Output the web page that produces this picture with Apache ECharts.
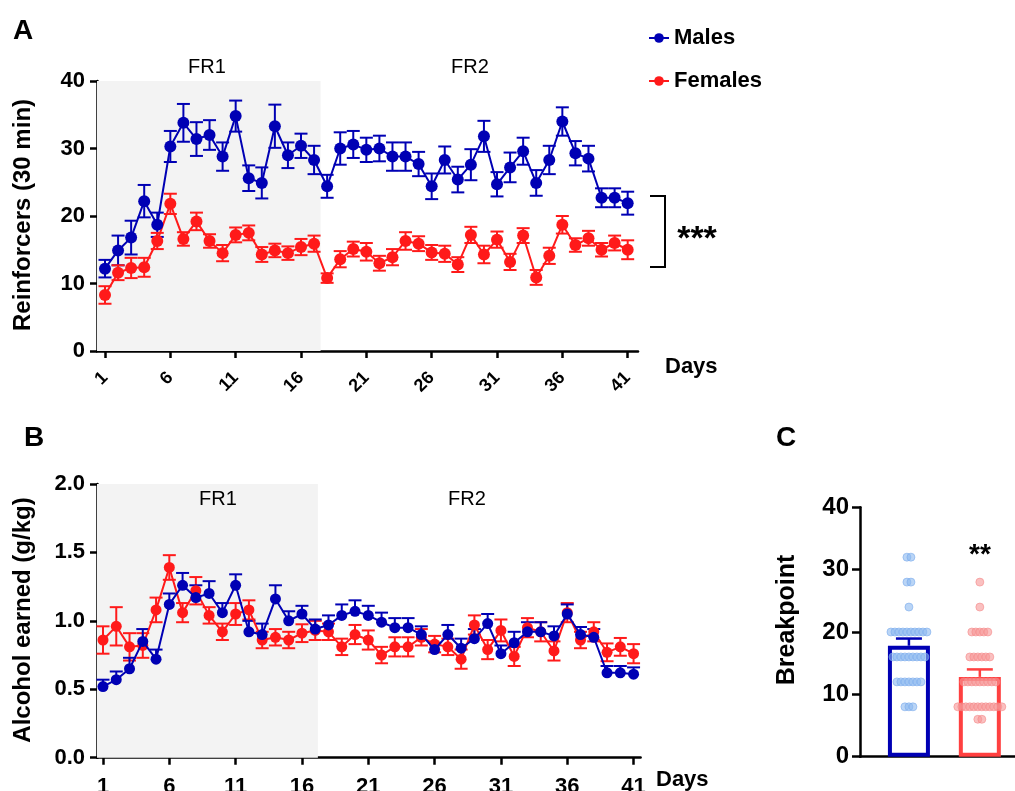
<!DOCTYPE html>
<html>
<head>
<meta charset="utf-8">
<script src="https://cdn.jsdelivr.net/npm/echarts@6/dist/echarts.min.js"></script>
<style>
html,body{margin:0;padding:0;background:#fff;}
#chart{width:1015px;height:791px;}
</style>
</head>
<body>
<div id="chart"></div>
<script>
// ---------- data ----------
const days = [1,2,3,4,5,6,7,8,9,10,11,12,13,14,15,16,17,18,19,20,21,22,23,24,25,26,27,28,29,30,31,32,33,34,35,36,37,38,39,40,41];
const dayTicks = [1,6,11,16,21,26,31,36,41];

// Panel A: reinforcers (30 min), mean and SEM
const maleReinf = [12.2,14.9,16.8,22.2,18.7,30.3,33.8,31.4,32.0,28.8,34.8,25.6,24.9,33.3,29.0,30.4,28.3,24.4,30.0,30.6,29.8,30.0,28.8,28.8,27.7,24.4,28.3,25.4,27.6,31.8,24.7,27.2,29.6,24.9,28.3,34.0,29.3,28.5,22.7,22.7,21.9];
const maleReinfSem = [1.3,2.2,2.5,2.4,1.8,2.3,2.8,2.5,2.2,2.1,2.3,1.9,2.3,3.2,1.9,1.8,2.1,1.7,2.4,2.0,1.8,1.9,2.1,2.1,1.8,1.9,2.0,1.9,2.3,2.3,1.8,2.2,2.0,1.9,2.1,2.1,1.8,1.9,1.4,1.4,1.7];
const femaleReinf = [8.3,11.6,12.3,12.4,16.3,21.8,16.6,19.2,16.3,14.5,17.2,17.5,14.3,14.9,14.5,15.4,15.9,10.8,13.6,15.1,14.7,13.0,13.9,16.3,15.9,14.6,14.4,12.8,17.2,14.3,16.5,13.2,17.1,10.9,14.1,18.7,15.7,16.7,15.0,16.0,15.0];
const femaleReinfSem = [1.3,1.1,1.5,1.4,1.2,1.5,1.0,1.3,1.0,1.2,1.1,1.1,1.1,1.0,1.0,1.2,1.2,0.7,1.2,1.1,1.3,1.1,1.2,1.3,1.1,1.1,1.2,1.1,1.2,1.3,1.2,1.2,1.1,1.1,1.2,1.3,1.0,1.1,1.0,1.1,1.4];

// Panel B: alcohol earned (g/kg), mean and SEM
const maleAlc = [0.52,0.57,0.65,0.85,0.72,1.12,1.26,1.17,1.20,1.06,1.26,0.92,0.90,1.16,1.00,1.05,0.94,0.97,1.04,1.07,1.04,0.99,0.95,0.95,0.90,0.79,0.90,0.80,0.87,0.98,0.76,0.84,0.92,0.92,0.89,1.05,0.90,0.88,0.62,0.62,0.61];
const maleAlcSem = [0.05,0.06,0.08,0.09,0.07,0.08,0.09,0.09,0.09,0.07,0.08,0.08,0.08,0.10,0.07,0.06,0.07,0.07,0.08,0.08,0.07,0.07,0.07,0.07,0.06,0.05,0.07,0.07,0.07,0.07,0.06,0.08,0.07,0.07,0.07,0.07,0.055,0.06,0.05,0.05,0.05];
const femaleAlc = [0.86,0.96,0.81,0.82,1.08,1.39,1.06,1.22,1.04,0.92,1.05,1.08,0.86,0.88,0.86,0.91,0.93,0.92,0.81,0.90,0.86,0.75,0.81,0.81,0.88,0.83,0.81,0.72,0.97,0.79,0.93,0.74,0.95,0.92,0.78,1.06,0.86,0.92,0.77,0.81,0.76];
const femaleAlcSem = [0.10,0.14,0.10,0.09,0.09,0.09,0.07,0.10,0.06,0.06,0.08,0.07,0.06,0.06,0.06,0.065,0.07,0.06,0.06,0.07,0.07,0.06,0.07,0.07,0.06,0.06,0.06,0.07,0.07,0.07,0.08,0.07,0.07,0.07,0.07,0.07,0.06,0.07,0.065,0.065,0.07];

// Panel C: breakpoint
const groups = ['Males','Females'];
const bpMean = [17.8, 12.8];
const bpSem = [1.15, 1.2];
const maleBP = [32,32,28,28,24,20,20,20,20,20,20,20,20,20,20,16,16,16,16,16,16,16,16,16,12,12,12,12,12,12,12,8,8,8];
const femaleBP = [28,24,20,20,20,20,20,16,16,16,16,16,16,12,12,12,12,12,12,12,12,12,8,8,8,8,8,8,8,8,8,8,8,8,6,6];

const fr1EndA = 17.5, fr1EndB = 17.2;

// ---------- style ----------
const BLUE = '#0000b4', RED = '#ff1a1a';
const LBLUE = 'rgba(140,185,240,0.75)', LRED = 'rgba(247,150,150,0.75)';
const FONT = '"Liberation Sans", Arial, Helvetica, sans-serif';

const chart = echarts.init(document.getElementById('chart'), null, {renderer:'canvas'});

function pairs(xs, ys, es){ return xs.map((x,i)=> es ? [x, ys[i], es[i]] : [x, ys[i]]); }

function errRender(color, capHalf, lw, upperOnly){
  return function(params, api){
    const x = api.value(0), y = api.value(1), e = api.value(2);
    const top = api.coord([x, y + e]);
    const bot = api.coord([x, upperOnly ? y : y - e]);
    const st = {stroke: color, lineWidth: lw};
    const ch = [
      {type:'line', shape:{x1:top[0], y1:top[1], x2:bot[0], y2:bot[1]}, style:st},
      {type:'line', shape:{x1:top[0]-capHalf, y1:top[1], x2:top[0]+capHalf, y2:top[1]}, style:st}
    ];
    if(!upperOnly) ch.push({type:'line', shape:{x1:bot[0]-capHalf, y1:bot[1], x2:bot[0]+capHalf, y2:bot[1]}, style:st});
    return {type:'group', children: ch};
  };
}

// beeswarm-like layout for panel C points
const cMin = 0.31, cMax = 2.496, cWidthPx = 155;
const pxPerUnit = cWidthPx / (cMax - cMin);
function swarm(values, center){
  const counts = {}, seen = {};
  values.forEach(v => counts[v] = (counts[v]||0) + 1);
  return values.map(v => {
    const k = seen[v] = (seen[v]===undefined ? 0 : seen[v]+1);
    const off = (k - (counts[v]-1)/2) * 4 / pxPerUnit;
    return [center + off, v];
  });
}

const axisLineStyle = {lineStyle:{color:'#000', width:2.5}};
const tickStyle = {show:true, length:7, lineStyle:{color:'#000', width:2.5}};

function txt(x, y, text, font, align, rot){
  const o = {type:'text', x:x, y:y, z:100, style:{text:text, font:font, fill:'#000', textAlign:align||'center', textVerticalAlign:'middle'}};
  if(rot) o.rotation = rot;
  return o;
}

const option = {
  animation: false,
  backgroundColor: '#fff',
  legend: {
    data: ['Males','Females'],
    orient: 'vertical',
    left: 643, top: 22,
    itemGap: 21,
    itemWidth: 20, itemHeight: 12,
    textStyle: {fontFamily: FONT, fontSize: 22, fontWeight: 'bold', color:'#000'}
  },
  grid: [
    {left: 97, top: 81, width: 541, height: 270, outerBoundsMode:'none', containLabel:false},
    {left: 97, top: 484, width: 543.6, height: 273.7, outerBoundsMode:'none', containLabel:false},
    {left: 860, top: 507.3, width: 155, height: 249.4, outerBoundsMode:'none', containLabel:false}
  ],
  xAxis: [
    {gridIndex:0, type:'value', min:0.388, max:41.79,
      axisLine: axisLineStyle, splitLine:{show:false},
      axisTick: Object.assign({customValues: dayTicks}, tickStyle),
      axisLabel: {customValues: dayTicks, rotate: 45, margin: 24, fontFamily: FONT, fontSize: 18, fontWeight:'bold', color:'#000'}
    },
    {gridIndex:1, type:'value', min:0.548, max:41.53,
      axisLine: axisLineStyle, splitLine:{show:false},
      axisTick: Object.assign({customValues: dayTicks}, tickStyle),
      axisLabel: {customValues: dayTicks, margin: 18, fontFamily: FONT, fontSize: 22, fontWeight:'bold', color:'#000'}
    },
    {gridIndex:2, type:'value', min:cMin, max:cMax,
      axisLine: axisLineStyle, splitLine:{show:false},
      axisTick:{show:false}, axisLabel:{show:false}
    }
  ],
  yAxis: [
    {gridIndex:0, type:'value', min:0, max:40, interval:10,
      axisLine: Object.assign({show:true}, axisLineStyle), splitLine:{show:false},
      axisTick: tickStyle,
      axisLabel: {margin: 12, fontFamily: FONT, fontSize: 22, fontWeight:'bold', color:'#000'}
    },
    {gridIndex:1, type:'value', min:0, max:2, interval:0.5,
      axisLine: Object.assign({show:true}, axisLineStyle), splitLine:{show:false},
      axisTick: tickStyle,
      axisLabel: {margin: 12, fontFamily: FONT, fontSize: 22, fontWeight:'bold', color:'#000', formatter: v => v.toFixed(1)}
    },
    {gridIndex:2, type:'value', min:0, max:40, interval:10,
      axisLine: Object.assign({show:true}, axisLineStyle), splitLine:{show:false},
      axisTick: {show:true, length:8, lineStyle:{color:'#000', width:2.5}},
      axisLabel: {margin: 11, fontFamily: FONT, fontSize: 24, fontWeight:'bold', color:'#000'}
    }
  ],
  series: [
    // ---- Panel A ----
    {type:'custom', name:'errMA', xAxisIndex:0, yAxisIndex:0, z:1,
      renderItem: errRender(BLUE, 6.5, 2, false), encode:{x:0,y:1},
      data: pairs(days, maleReinf, maleReinfSem),
      markArea: {silent:true, itemStyle:{color:'#f3f3f3'}, data:[[{xAxis:0.388},{xAxis:fr1EndA}]]}
    },
    {type:'custom', name:'errFA', xAxisIndex:0, yAxisIndex:0, z:1,
      renderItem: errRender(RED, 6.5, 2, false), encode:{x:0,y:1},
      data: pairs(days, femaleReinf, femaleReinfSem)
    },
    {type:'line', name:'Females', xAxisIndex:0, yAxisIndex:0, z:2,
      data: pairs(days, femaleReinf), symbol:'circle', symbolSize:12,
      lineStyle:{color:RED, width:2}, itemStyle:{color:RED}},
    {type:'line', name:'Males', xAxisIndex:0, yAxisIndex:0, z:3,
      data: pairs(days, maleReinf), symbol:'circle', symbolSize:12,
      lineStyle:{color:BLUE, width:2}, itemStyle:{color:BLUE}},
    // ---- Panel B ----
    {type:'custom', name:'errFB', xAxisIndex:1, yAxisIndex:1, z:1,
      renderItem: errRender(RED, 6.5, 2, false), encode:{x:0,y:1},
      data: pairs(days, femaleAlc, femaleAlcSem),
      markArea: {silent:true, itemStyle:{color:'#f3f3f3'}, data:[[{xAxis:0.548},{xAxis:fr1EndB}]]}
    },
    {type:'custom', name:'errMB', xAxisIndex:1, yAxisIndex:1, z:1,
      renderItem: errRender(BLUE, 6.5, 2, true), encode:{x:0,y:1},
      data: pairs(days, maleAlc, maleAlcSem)
    },
    {type:'line', name:'Females', xAxisIndex:1, yAxisIndex:1, z:2,
      data: pairs(days, femaleAlc), symbol:'circle', symbolSize:11,
      lineStyle:{color:RED, width:2}, itemStyle:{color:RED}},
    {type:'line', name:'Males', xAxisIndex:1, yAxisIndex:1, z:3,
      data: pairs(days, maleAlc), symbol:'circle', symbolSize:11,
      lineStyle:{color:BLUE, width:2}, itemStyle:{color:BLUE}},
    // ---- Panel C ----
    {type:'bar', name:'bpBars', xAxisIndex:2, yAxisIndex:2, z:1, barWidth:42,
      data: [
        {value:[1, bpMean[0]], itemStyle:{color:'#fff', borderColor:BLUE, borderWidth:4}},
        {value:[2, bpMean[1]], itemStyle:{color:'#fff', borderColor:'#ff4040', borderWidth:4}}
      ]},
    {type:'scatter', name:'bpMalePts', xAxisIndex:2, yAxisIndex:2, z:2, symbolSize:8,
      data: swarm(maleBP, 1), itemStyle:{color:LBLUE, borderColor:'rgba(120,170,235,0.9)', borderWidth:0.8}},
    {type:'scatter', name:'bpFemalePts', xAxisIndex:2, yAxisIndex:2, z:2, symbolSize:8,
      data: swarm(femaleBP, 2), itemStyle:{color:LRED, borderColor:'rgba(245,135,135,0.9)', borderWidth:0.8}},
    {type:'custom', name:'bpErrM', xAxisIndex:2, yAxisIndex:2, z:3,
      renderItem: errRender(BLUE, 13, 2.5, true), encode:{x:0,y:1},
      data: [[1, bpMean[0], bpSem[0]]]},
    {type:'custom', name:'bpErrF', xAxisIndex:2, yAxisIndex:2, z:3,
      renderItem: errRender('#ff4040', 13, 2.5, true), encode:{x:0,y:1},
      data: [[2, bpMean[1], bpSem[1]]]}
  ],
  graphic: [
    txt(13, 31, 'A', 'bold 28px '+FONT, 'left'),
    txt(24, 438, 'B', 'bold 28px '+FONT, 'left'),
    txt(776, 438, 'C', 'bold 28px '+FONT, 'left'),
    txt(207, 67, 'FR1', '20px '+FONT),
    txt(470, 67, 'FR2', '20px '+FONT),
    txt(218, 499, 'FR1', '20px '+FONT),
    txt(467, 499, 'FR2', '20px '+FONT),
    txt(23, 215, 'Reinforcers (30 min)', 'bold 24px '+FONT, 'center', Math.PI/2),
    txt(23, 620, 'Alcohol earned (g/kg)', 'bold 24px '+FONT, 'center', Math.PI/2),
    txt(787, 620, 'Breakpoint', 'bold 25px '+FONT, 'center', Math.PI/2),
    txt(665, 367, 'Days', 'bold 22px '+FONT, 'left'),
    txt(656, 780, 'Days', 'bold 22px '+FONT, 'left'),
    {type:'polyline', z:100, shape:{points:[[650,196],[665,196],[665,267],[650,267]]}, style:{stroke:'#000', lineWidth:2, fill:null}},
    txt(697, 240, '***', 'bold 34px '+FONT),
    txt(980, 555, '**', 'bold 28px '+FONT)
  ]
};
chart.setOption(option);
</script>
</body>
</html>
